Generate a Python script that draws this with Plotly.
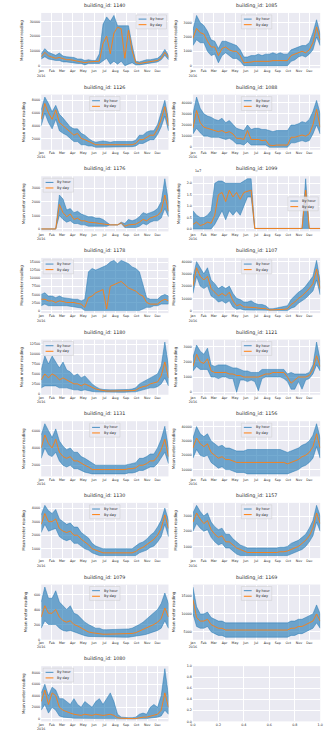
import numpy as np
import pandas as pd
import plotly.graph_objects as go

# Buildings shown, in panel order (left-to-right, top-to-bottom)
building_ids = [1140, 1085, 1126, 1088, 1176, 1099, 1178, 1107, 1180,
                1121, 1131, 1156, 1130, 1157, 1079, 1169, 1080]

month_labels = ["Jan<br>2016", "Feb", "Mar", "Apr", "May", "Jun",
                "Jul", "Aug", "Sep", "Oct", "Nov", "Dec"]

# Daily mean readings (~10-day samples) and hourly high / low envelope
day_1140 = [6000, 9000, 6500, 5500, 5000, 5500, 4500, 4000, 4000, 3500, 3000, 3000, 2000, 2500, 2500, 2500, 3000, 15000, 20000, 8000, 22000, 26000, 25000, 5000, 24000, 10000, 2000, 1500, 2000, 2500, 3000, 3000, 3500, 5000, 9000, 5500]
hi_1140 = [8000, 11500, 9000, 8000, 7000, 8500, 6500, 6000, 6000, 5500, 4500, 4500, 3500, 4000, 3500, 3500, 8000, 28000, 33000, 30000, 34000, 27000, 27000, 27000, 27000, 14000, 3000, 2500, 3500, 4000, 4000, 4500, 5000, 7000, 11000, 7000]
lo_1140 = [4500, 6000, 4500, 4000, 3500, 3500, 2500, 2500, 2000, 2000, 1500, 1500, 500, 1500, 1500, 1500, 1500, 3000, 5000, 1000, 3000, 1000, 3000, 0, 1000, 2000, 500, 500, 1000, 1500, 2000, 2000, 2500, 4000, 7000, 4000]

day_1085 = [1900, 2600, 2300, 2200, 1700, 1300, 1300, 700, 1200, 1300, 1100, 1000, 1000, 700, 200, 200, 250, 300, 300, 250, 300, 300, 350, 350, 400, 400, 350, 700, 800, 900, 1000, 900, 1100, 1600, 2700, 1800]
hi_1085 = [2500, 3500, 3000, 2800, 2400, 1800, 1700, 1200, 1700, 1700, 1600, 1500, 1400, 1100, 600, 600, 700, 700, 800, 700, 800, 800, 900, 800, 900, 800, 800, 1100, 1200, 1300, 1400, 1400, 1600, 2300, 3200, 2200]
lo_1085 = [1400, 1800, 1600, 1600, 1000, 700, 800, 200, 700, 900, 700, 500, 500, 300, 0, 0, 0, 0, 0, 0, 0, 0, 0, 0, 0, 0, 0, 300, 400, 600, 700, 600, 800, 1100, 2000, 1400]

day_1126 = [5000, 7500, 6000, 5000, 6500, 4500, 4000, 3500, 3000, 2500, 2800, 2000, 1800, 1500, 1200, 1000, 1000, 1000, 1000, 1000, 1000, 1000, 1000, 1000, 1000, 1000, 1200, 1800, 1800, 2200, 2500, 2500, 3500, 5000, 7000, 4000]
hi_1126 = [6500, 8500, 7500, 6200, 7200, 5800, 5200, 4500, 3800, 3500, 3500, 2800, 2500, 2000, 1600, 1400, 1500, 1600, 1500, 1400, 1500, 1500, 1500, 1400, 1500, 1500, 1700, 2500, 2500, 3000, 3200, 3200, 4200, 6000, 8000, 5000]
lo_1126 = [4000, 6000, 4500, 3500, 5000, 3200, 2800, 2500, 2000, 1500, 1500, 1000, 1000, 800, 800, 600, 600, 600, 600, 600, 700, 600, 600, 700, 700, 700, 800, 1200, 1200, 1500, 1800, 1800, 2600, 3800, 5500, 3200]

day_1088 = [17000, 33000, 22000, 18000, 17000, 16000, 15000, 14000, 15000, 13000, 14000, 12000, 8000, 8000, 7000, 15000, 7000, 7000, 7000, 6000, 6500, 2000, 1500, 2000, 2000, 2000, 2000, 9000, 9000, 10000, 11000, 10000, 12000, 20000, 34000, 18000]
hi_1088 = [30000, 45000, 35000, 30000, 28000, 27000, 25000, 24000, 26000, 22000, 24000, 20000, 17000, 16000, 15000, 20000, 16000, 17000, 17000, 16000, 16000, 15000, 14000, 15000, 15000, 15000, 15000, 20000, 20000, 21000, 23000, 22000, 25000, 32000, 42000, 30000]
lo_1088 = [12000, 17000, 13000, 10000, 10000, 9000, 9000, 9000, 8000, 7000, 8000, 6000, 3000, 3000, 2000, 5000, 2000, 2000, 2000, 2000, 2000, 0, 0, 0, 0, 0, 0, 4000, 4000, 5000, 6000, 5000, 6000, 12000, 20000, 12000]

day_1176 = [0, 0, 0, 0, 0, 1800, 1200, 900, 1100, 700, 800, 600, 600, 500, 500, 450, 400, 350, 300, 300, 300, 300, 450, 200, 300, 300, 350, 500, 700, 600, 800, 900, 1000, 1300, 2500, 1300]
hi_1176 = [0, 0, 0, 0, 0, 2500, 2200, 1400, 1500, 1200, 1300, 1100, 1000, 900, 900, 800, 800, 700, 500, 300, 300, 300, 500, 400, 700, 600, 700, 900, 1200, 1100, 1200, 1300, 1500, 2000, 3700, 2000]
lo_1176 = [0, 0, 0, 0, 0, 1000, 700, 500, 600, 400, 400, 300, 300, 200, 200, 200, 200, 200, 200, 300, 300, 300, 400, 100, 100, 100, 100, 200, 400, 300, 500, 600, 600, 800, 1500, 900]

day_1099 = [0.2e7, 0.3e7, 0.15e7, 0.2e7, 0.3e7, 0.25e7, 0.6e7, 1.5e7, 1.6e7, 1.2e7, 1.7e7, 1.4e7, 1.6e7, 1.3e7, 1.6e7, 1.65e7, 1.7e7, 0.02e7, 0.02e7, 0.02e7, 0.02e7, 0.02e7, 0.02e7, 0.02e7, 0.02e7, 0.02e7, 0.02e7, 0.02e7, 0.02e7, 0.02e7, 0.02e7, 1.7e7, 0.02e7, 0.02e7, 0.02e7, 0.02e7]
hi_1099 = [0.8e7, 0.6e7, 0.5e7, 0.5e7, 0.6e7, 0.8e7, 2.0e7, 2.1e7, 2.1e7, 2.0e7, 2.0e7, 2.0e7, 2.0e7, 2.0e7, 2.1e7, 2.2e7, 2.2e7, 0.02e7, 0.02e7, 0.02e7, 0.02e7, 0.02e7, 0.02e7, 0.02e7, 0.02e7, 0.02e7, 0.02e7, 0.02e7, 0.02e7, 0.02e7, 0.02e7, 2.2e7, 0.02e7, 0.02e7, 0.02e7, 0.02e7]
lo_1099 = [0, 0, 0, 0, 0, 0, 0.2e7, 0.5e7, 0.8e7, 0.4e7, 0.8e7, 0.6e7, 0.8e7, 0.6e7, 1.0e7, 1.4e7, 1.4e7, 0.02e7, 0.02e7, 0.02e7, 0.02e7, 0.02e7, 0.02e7, 0.02e7, 0.02e7, 0.02e7, 0.02e7, 0.02e7, 0.02e7, 0.02e7, 0.02e7, 0.02e7, 0.02e7, 0.02e7, 0.02e7, 0.02e7]

day_1178 = [3500, 3500, 3000, 3000, 2500, 3000, 2800, 2500, 2500, 2500, 2200, 2000, 1000, 4000, 4500, 5500, 6000, 6500, 500, 7500, 8000, 8500, 9000, 8000, 7000, 6500, 6000, 5000, 4500, 2500, 2000, 2000, 2000, 3000, 3500, 3000]
hi_1178 = [5000, 5500, 4500, 4500, 4000, 4500, 4000, 3800, 3800, 3500, 3500, 3000, 3500, 12000, 13000, 12500, 13000, 13500, 14000, 15000, 15500, 14500, 15500, 15000, 14500, 13500, 13000, 12000, 8000, 4000, 3500, 3500, 3500, 4500, 5000, 4500]
lo_1178 = [1500, 2000, 1500, 1500, 1500, 1500, 1500, 1500, 1200, 1000, 1000, 800, 0, 0, 0, 0, 0, 0, 0, 0, 0, 0, 0, 0, 0, 0, 0, 0, 500, 1000, 1000, 1500, 1500, 2000, 2000, 2000]

day_1107 = [20000, 35000, 28000, 25000, 28000, 18000, 15000, 12000, 14000, 12000, 15000, 8000, 4000, 5000, 3000, 3000, 3000, 2500, 2000, 2000, 1500, 500, 500, 500, 1000, 1000, 1500, 5000, 7000, 10000, 12000, 15000, 18000, 22000, 34000, 18000]
hi_1107 = [27000, 40000, 35000, 30000, 35000, 25000, 22000, 18000, 20000, 18000, 20000, 14000, 10000, 9000, 7000, 7000, 8000, 6000, 5000, 5000, 4000, 1500, 1500, 2000, 3000, 3000, 4000, 9000, 12000, 15000, 17000, 20000, 24000, 28000, 41000, 24000]
lo_1107 = [14000, 28000, 20000, 18000, 20000, 12000, 10000, 7000, 8000, 6000, 8000, 3000, 1000, 1500, 500, 500, 500, 500, 500, 0, 0, 0, 0, 0, 0, 0, 0, 2000, 3000, 6000, 8000, 10000, 13000, 16000, 25000, 13000]

day_1180 = [3500, 5000, 4000, 5000, 4500, 3500, 4000, 3500, 3000, 2500, 2500, 2000, 2500, 2000, 1500, 1200, 1000, 800, 700, 700, 700, 700, 700, 700, 700, 800, 900, 1500, 1800, 2000, 2500, 2800, 3000, 4500, 8000, 4000]
hi_1180 = [6000, 9500, 7500, 9500, 8000, 6500, 8000, 6000, 5500, 4500, 5000, 4000, 4500, 3500, 2500, 1800, 1300, 1100, 1000, 1000, 1000, 1000, 1000, 1000, 1100, 1200, 1500, 2500, 3000, 3500, 4000, 4500, 5000, 7000, 13000, 7000]
lo_1180 = [1500, 2000, 2000, 2000, 2000, 1500, 1500, 1500, 1200, 1000, 1000, 800, 1000, 800, 600, 500, 500, 500, 400, 400, 400, 400, 400, 400, 400, 500, 500, 800, 1000, 1200, 1500, 1500, 1800, 2500, 4000, 2000]

day_1121 = [1700, 2500, 2000, 1900, 2200, 1400, 1300, 1300, 1300, 1300, 1200, 1200, 1100, 1100, 1000, 1000, 1000, 1000, 1000, 1100, 1200, 1200, 1300, 1300, 1300, 1300, 1000, 600, 800, 1000, 1000, 1000, 1100, 1500, 2400, 1700]
hi_1121 = [2300, 3100, 2700, 2500, 2900, 1800, 1700, 1800, 1800, 1800, 1700, 1600, 1600, 1500, 1400, 1400, 1300, 1300, 1300, 1500, 1500, 1500, 1500, 1500, 1500, 1500, 1200, 1300, 1200, 1200, 1200, 1200, 1300, 1800, 3300, 2100]
lo_1121 = [1400, 1700, 1500, 1500, 1500, 1000, 1000, 900, 1000, 1000, 900, 900, 0, 800, 800, 700, 800, 700, 100, 900, 1000, 1000, 1000, 1000, 1000, 900, 700, 200, 200, 700, 200, 800, 900, 1200, 1800, 1400]

day_1131 = [4000, 5500, 4500, 4000, 5000, 3500, 3000, 2800, 3000, 2500, 2500, 2200, 2000, 1800, 1500, 1500, 1500, 1500, 1500, 1500, 1500, 1500, 1500, 1500, 1600, 1600, 1700, 2000, 2000, 2200, 2500, 2500, 3000, 3800, 5000, 3000]
hi_1131 = [5500, 6800, 6000, 5200, 6200, 4800, 4200, 3800, 4000, 3500, 3500, 3000, 2800, 2500, 2200, 2000, 2000, 2000, 2000, 2000, 2000, 2000, 2000, 2000, 2100, 2200, 2300, 2800, 2800, 3000, 3300, 3300, 4000, 5000, 6500, 4000]
lo_1131 = [2800, 4000, 3200, 3000, 3500, 2500, 2000, 1800, 2000, 1600, 1600, 1400, 1200, 1100, 1000, 1000, 1000, 1000, 1000, 1000, 1000, 1000, 1000, 1000, 1100, 1100, 1200, 1400, 1400, 1600, 1800, 1800, 2200, 2800, 3500, 2200]

day_1156 = [25000, 32000, 28000, 26000, 28000, 22000, 20000, 18000, 19000, 17000, 17000, 16000, 15000, 15000, 15000, 15000, 15000, 15000, 15000, 15000, 15000, 15000, 15000, 15000, 15000, 15000, 14000, 15000, 16000, 17000, 19000, 20000, 22000, 26000, 35000, 25000]
hi_1156 = [32000, 40000, 35000, 33000, 35000, 30000, 28000, 26000, 27000, 25000, 25000, 24000, 23000, 23000, 23000, 24000, 24000, 24000, 24000, 24000, 24000, 24000, 24000, 24000, 24000, 23000, 22000, 23000, 24000, 25000, 27000, 28000, 30000, 34000, 42000, 32000]
lo_1156 = [18000, 24000, 20000, 19000, 20000, 15000, 13000, 11000, 12000, 10000, 10000, 9000, 8000, 8000, 8000, 7000, 7000, 7000, 7000, 7000, 7000, 7000, 7000, 7000, 7000, 7000, 7000, 8000, 9000, 10000, 12000, 13000, 15000, 18000, 26000, 18000]

day_1130 = [2800, 3600, 3000, 3000, 3200, 2500, 2300, 2200, 2300, 2000, 2000, 1700, 1500, 1300, 1000, 900, 800, 700, 700, 700, 700, 700, 700, 700, 700, 700, 800, 1000, 1100, 1300, 1500, 1700, 2000, 2500, 3500, 2500]
hi_1130 = [3500, 4200, 3800, 3600, 3900, 3200, 3000, 2800, 2900, 2600, 2600, 2200, 2000, 1800, 1400, 1200, 1100, 1000, 1000, 1000, 1000, 1000, 1000, 1000, 1000, 1000, 1200, 1400, 1500, 1700, 2000, 2200, 2600, 3100, 4000, 3100]
lo_1130 = [2200, 2800, 2300, 2400, 2500, 1900, 1700, 1600, 1700, 1400, 1400, 1200, 1000, 900, 700, 600, 500, 500, 500, 500, 500, 500, 500, 500, 500, 500, 500, 700, 800, 900, 1100, 1200, 1500, 1900, 2800, 1900]

day_1157 = [2600, 3200, 2800, 2500, 2700, 2100, 1800, 1600, 1700, 1300, 1300, 1100, 900, 800, 700, 600, 600, 600, 600, 600, 600, 600, 600, 600, 650, 650, 700, 800, 900, 1000, 1200, 1400, 1700, 2200, 3200, 2500]
hi_1157 = [3200, 3700, 3300, 3000, 3200, 2600, 2300, 2100, 2200, 1800, 1800, 1500, 1300, 1100, 1000, 900, 900, 900, 900, 900, 900, 900, 900, 900, 950, 950, 1000, 1200, 1300, 1400, 1600, 1800, 2200, 2700, 3700, 3000]
lo_1157 = [2000, 2500, 2200, 2000, 2100, 1600, 1300, 1100, 1200, 900, 900, 700, 500, 400, 400, 400, 400, 400, 400, 400, 400, 400, 400, 400, 400, 400, 400, 500, 600, 700, 800, 1000, 1300, 1700, 2600, 2000]

day_1079 = [300, 450, 350, 350, 400, 300, 250, 230, 250, 200, 180, 150, 120, 100, 90, 80, 80, 70, 70, 70, 70, 70, 70, 70, 80, 80, 90, 110, 130, 150, 180, 200, 230, 280, 420, 300]
hi_1079 = [500, 700, 550, 550, 650, 500, 450, 400, 450, 350, 330, 280, 230, 200, 170, 150, 150, 130, 130, 130, 130, 130, 130, 130, 140, 150, 170, 200, 230, 270, 320, 350, 400, 480, 620, 480]
lo_1079 = [150, 250, 200, 200, 200, 150, 120, 110, 120, 100, 90, 70, 50, 40, 30, 30, 30, 30, 30, 30, 30, 30, 30, 30, 30, 30, 40, 50, 60, 70, 90, 100, 120, 150, 250, 150]

day_1169 = [14000, 9000, 8000, 8000, 8500, 7000, 6500, 6000, 6000, 5500, 5500, 5500, 5500, 5500, 5500, 5500, 5500, 5500, 5500, 5500, 5500, 5500, 5500, 5500, 5500, 5500, 5500, 6000, 6000, 6500, 6500, 7000, 7500, 8000, 10000, 8000]
hi_1169 = [17500, 12000, 10000, 10000, 10500, 9000, 8500, 8000, 8000, 7500, 7500, 7500, 7500, 7500, 7500, 7500, 7500, 7500, 7500, 7500, 7500, 7500, 7500, 7500, 7500, 7500, 7500, 8000, 8000, 8500, 8500, 9000, 9500, 10000, 12500, 10000]
lo_1169 = [10000, 6500, 6000, 6000, 6500, 5000, 4500, 4000, 4000, 3500, 3500, 3500, 3500, 3500, 3500, 3500, 3500, 3500, 3500, 3500, 3500, 3500, 3500, 3500, 3500, 3500, 3500, 4000, 4000, 4500, 4500, 5000, 5500, 6000, 7500, 6000]

day_1080 = [3000, 5000, 2500, 4500, 4000, 2000, 1500, 1200, 1000, 800, 700, 600, 800, 700, 600, 800, 700, 600, 700, 800, 600, 200, 100, 50, 50, 50, 50, 200, 300, 300, 500, 700, 800, 1500, 4500, 2000]
hi_1080 = [4500, 6000, 4000, 5500, 5000, 3500, 3500, 3000, 2500, 3500, 2500, 2000, 3000, 2500, 2000, 3000, 3500, 2500, 3500, 4500, 3000, 800, 300, 200, 200, 200, 300, 800, 1000, 800, 2000, 2500, 2000, 4000, 8700, 4000]
lo_1080 = [1500, 2500, 1000, 2000, 1500, 500, 300, 200, 200, 100, 100, 100, 100, 100, 100, 100, 100, 100, 100, 100, 100, 50, 0, 0, 0, 0, 0, 0, 50, 50, 100, 200, 300, 500, 1500, 800]

series = {
    1140: (day_1140, hi_1140, lo_1140), 1085: (day_1085, hi_1085, lo_1085),
    1126: (day_1126, hi_1126, lo_1126), 1088: (day_1088, hi_1088, lo_1088),
    1176: (day_1176, hi_1176, lo_1176), 1099: (day_1099, hi_1099, lo_1099),
    1178: (day_1178, hi_1178, lo_1178), 1107: (day_1107, hi_1107, lo_1107),
    1180: (day_1180, hi_1180, lo_1180), 1121: (day_1121, hi_1121, lo_1121),
    1131: (day_1131, hi_1131, lo_1131), 1156: (day_1156, hi_1156, lo_1156),
    1130: (day_1130, hi_1130, lo_1130), 1157: (day_1157, hi_1157, lo_1157),
    1079: (day_1079, hi_1079, lo_1079), 1169: (day_1169, hi_1169, lo_1169),
    1080: (day_1080, hi_1080, lo_1080),
}

# y tick step per panel and legend placement
y_step = {1140: 10000, 1085: 1000, 1126: 2000, 1088: 10000, 1176: 1000,
          1099: 5e6, 1178: 2500, 1107: 10000, 1180: 2500, 1121: 1000,
          1131: 2000, 1156: 10000, 1130: 1000, 1157: 1000, 1079: 200,
          1169: 5000, 1080: 2000}
legend_loc = {1140: "ur", 1085: "uc", 1126: "uc", 1088: "uc", 1176: "ul",
              1099: "cr", 1178: "ul", 1107: "uc", 1180: "ul", 1121: "uc",
              1131: "uc", 1156: "uc", 1130: "uc", 1157: "uc", 1079: "uc",
              1169: "uc", 1080: "ul"}

W, H = 333, 736
COL_X = [(38, 168), (193, 323)]
ROW_TOP0, ROW_PITCH, PANEL_H = 11, 82.1, 55.5
BG = "#EAEAF2"
TXT = "#262626"
FONT = "DejaVu Sans"
BLUE = "rgba(31,119,180,0.8)"
BLUE_FILL = "rgba(31,119,180,0.62)"
ORANGE = "#ff7f0e"

TICK_SIZE = 3.3
TITLE_SIZE = 4.8
LABEL_SIZE = 4.0
LEGEND_SIZE = 3.5

t0 = pd.Timestamp("2016-01-01")
t1 = pd.Timestamp("2016-12-31 23:00")
month_starts = pd.date_range("2016-01-01", periods=12, freq="MS")

fig = go.Figure()


def domains(idx):
    row, col = divmod(idx, 2)
    xa, xb = COL_X[col]
    top = ROW_TOP0 + ROW_PITCH * row
    return [xa / W, xb / W], [1 - (top + PANEL_H) / H, 1 - top / H]


def axis_names(n):
    s = "" if n == 1 else str(n)
    return "xaxis" + s, "yaxis" + s, "x" + s, "y" + s


def add_legend(xr, yr, loc, pw):
    bw, bh = 31 / pw, 14 / PANEL_H
    px, py = 1 / pw, 1 / PANEL_H
    if loc == "ur":
        x0, y1 = 1 - 2 * px - bw, 1 - 2 * py
    elif loc == "ul":
        x0, y1 = 2 * px, 1 - 2 * py
    elif loc == "cr":
        x0, y1 = 1 - 2 * px - bw, 0.5 + bh / 2
    else:
        x0, y1 = 0.5 - bw / 2, 1 - 2 * py
    fig.add_shape(type="rect", xref=xr, yref=yr, x0=x0, x1=x0 + bw,
                  y0=y1 - bh, y1=y1, fillcolor="rgba(234,234,242,0.8)",
                  line=dict(color="rgba(204,204,204,0.8)", width=0.6))
    for k, (name, color) in enumerate([("By hour", BLUE), ("By day", ORANGE)]):
        yy = y1 - (4.2 + 5.6 * k) * py
        fig.add_shape(type="line", xref=xr, yref=yr, x0=x0 + 2.5 * px,
                      x1=x0 + 10.5 * px, y0=yy, y1=yy,
                      line=dict(color=color, width=1))
        fig.add_annotation(xref=xr, yref=yr, x=x0 + 12.5 * px, y=yy,
                           text=name, showarrow=False, xanchor="left",
                           yanchor="middle",
                           font=dict(size=LEGEND_SIZE, color=TXT, family=FONT))


tick_font = dict(size=TICK_SIZE, color=TXT, family=FONT)

for i, bid in enumerate(building_ids):
    n = i + 1
    xname, yname, xr, yr = axis_names(n)
    xd, yd = domains(i)
    day, hi, lo = series[bid]
    t_day = pd.date_range(t0, t1, periods=len(day))
    t_env = pd.date_range(t0, t1, periods=len(hi))

    # hourly readings: spread between the high and low envelope
    band_x = list(t_env) + list(t_env[::-1])
    band_y = list(hi) + list(lo[::-1])
    fig.add_trace(go.Scatter(x=band_x, y=band_y, mode="lines",
                             fill="toself", fillcolor=BLUE_FILL,
                             line=dict(color=BLUE, width=0.6),
                             showlegend=False, xaxis=xr, yaxis=yr,
                             name="By hour"))
    fig.add_trace(go.Scatter(x=t_day, y=day, mode="lines",
                             line=dict(color=ORANGE, width=0.9),
                             showlegend=False, xaxis=xr, yaxis=yr,
                             name="By day"))

    vmin = min(min(lo), min(day))
    vmax = max(max(hi), max(day))
    pad = 0.05 * (vmax - vmin)
    step = y_step[bid]
    yax = dict(domain=yd, anchor=xr, range=[vmin - pad, vmax + pad],
               tick0=0, dtick=step, tickformat="d", showgrid=True,
               gridcolor="white", gridwidth=0.7, zeroline=False,
               showline=False, ticks="", tickfont=tick_font,
               title=dict(text="Mean meter reading", standoff=6,
                          font=dict(size=LABEL_SIZE, color=TXT, family=FONT)))
    if bid == 1099:
        tv = [0, 5e6, 1e7, 1.5e7, 2e7]
        yax.update(tickmode="array", tickvals=tv,
                   ticktext=["0.0", "0.5", "1.0", "1.5", "2.0"])
        fig.add_annotation(xref=xr + " domain", yref=yr + " domain", x=0,
                           y=1, text="1e7", showarrow=False, xanchor="left",
                           yanchor="bottom", yshift=1,
                           font=dict(size=TICK_SIZE, color=TXT, family=FONT))
    fig.layout[yname] = yax
    fig.layout[xname] = dict(domain=xd, anchor=yr, type="date",
                             range=[t0, t1], tickmode="array",
                             tickvals=month_starts, ticktext=month_labels,
                             tickangle=0, showgrid=True, gridcolor="white",
                             gridwidth=0.7, zeroline=False, showline=False,
                             ticks="", tickfont=tick_font)
    fig.add_annotation(xref=xr + " domain", yref=yr + " domain", x=0.5, y=1,
                       text=f"building_id: {bid}", showarrow=False,
                       xanchor="center", yanchor="bottom", yshift=2,
                       font=dict(size=TITLE_SIZE, color=TXT, family=FONT))
    add_legend(xr + " domain", yr + " domain", legend_loc[bid],
               COL_X[i % 2][1] - COL_X[i % 2][0])

# unused last panel
n = len(building_ids) + 1
xname, yname, xr, yr = axis_names(n)
xd, yd = domains(n - 1)
fig.add_trace(go.Scatter(x=[], y=[], xaxis=xr, yaxis=yr, showlegend=False))
grid01 = dict(range=[0, 1], tick0=0, dtick=0.2, tickformat=".1f",
              tickangle=0, showgrid=True, gridcolor="white", gridwidth=0.7,
              zeroline=False, showline=False, ticks="", tickfont=tick_font)
fig.layout[xname] = dict(domain=xd, anchor=yr, **grid01)
fig.layout[yname] = dict(domain=yd, anchor=xr, **grid01)

fig.update_layout(width=W, height=H, margin=dict(l=0, r=0, t=0, b=0),
                  paper_bgcolor="white", plot_bgcolor=BG, showlegend=False,
                  font=dict(family=FONT, color=TXT))

fig.write_html("out.html")
